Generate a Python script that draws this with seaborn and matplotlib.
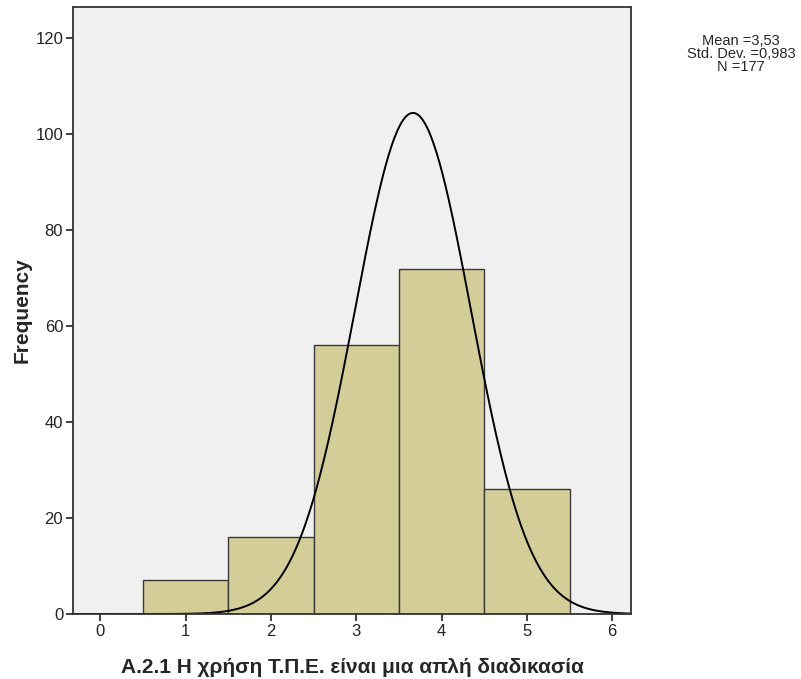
# SPSS-style histogram with normal curve
import numpy as np
import pandas as pd
import seaborn as sns
import matplotlib.pyplot as plt

values = [1, 2, 3, 4, 5]
counts = [7, 16, 56, 72, 26]
yticks = [0, 20, 40, 60, 80, 100, 120]
xticks = [0, 1, 2, 3, 4, 5, 6]
# normal curve as drawn on the picture
curve_mean = 3.665
curve_sd = 0.68
curve_n = 178
stats_text = "Mean =3,53\nStd. Dev. =0,983\nN =177"
xlabel = "A.2.1 Η χρήση Τ.Π.Ε. είναι μια απλή διαδικασία"

sns.set_style("ticks")
plt.rcParams['font.family'] = ['Liberation Sans', 'DejaVu Sans']

df = pd.DataFrame({'value': values, 'count': counts})

fig = plt.figure(figsize=(8.01, 6.79), dpi=100)
ax = fig.add_axes([0.0911, 0.0957, 0.6966, 0.894])
ax.set_facecolor('#f0f0f0')

sns.histplot(data=df, x='value', weights='count', discrete=True,
             color='#d3ce97', alpha=1, edgecolor='#3a3a3a', linewidth=1.0, ax=ax)

xs = np.linspace(-0.5, 6.5, 400)
ys = curve_n / (curve_sd * np.sqrt(2 * np.pi)) * np.exp(-0.5 * ((xs - curve_mean) / curve_sd) ** 2)
sns.lineplot(x=xs, y=ys, color='black', linewidth=1.4, ax=ax)

ax.set_xlim(-0.32, 6.22)
ax.set_ylim(0, 126.5)
ax.set_xticks(xticks)
ax.set_yticks(yticks)
ax.tick_params(axis='both', direction='out', length=5, width=1.2, colors='#222222',
               labelsize=12, pad=2)
for s in ax.spines.values():
    s.set_color('#333333')
    s.set_linewidth(1.3)

ax.set_xlabel(xlabel, fontsize=15, fontweight='bold', labelpad=14)
ax.set_ylabel('Frequency', fontsize=15, fontweight='bold')
ax.yaxis.set_label_coords(-0.074, 0.5)

fig.text(0.925, 0.921, stats_text, ha='center', va='center', fontsize=10.5,
         linespacing=0.92)

fig.savefig('out.png', dpi=100, facecolor='white')
